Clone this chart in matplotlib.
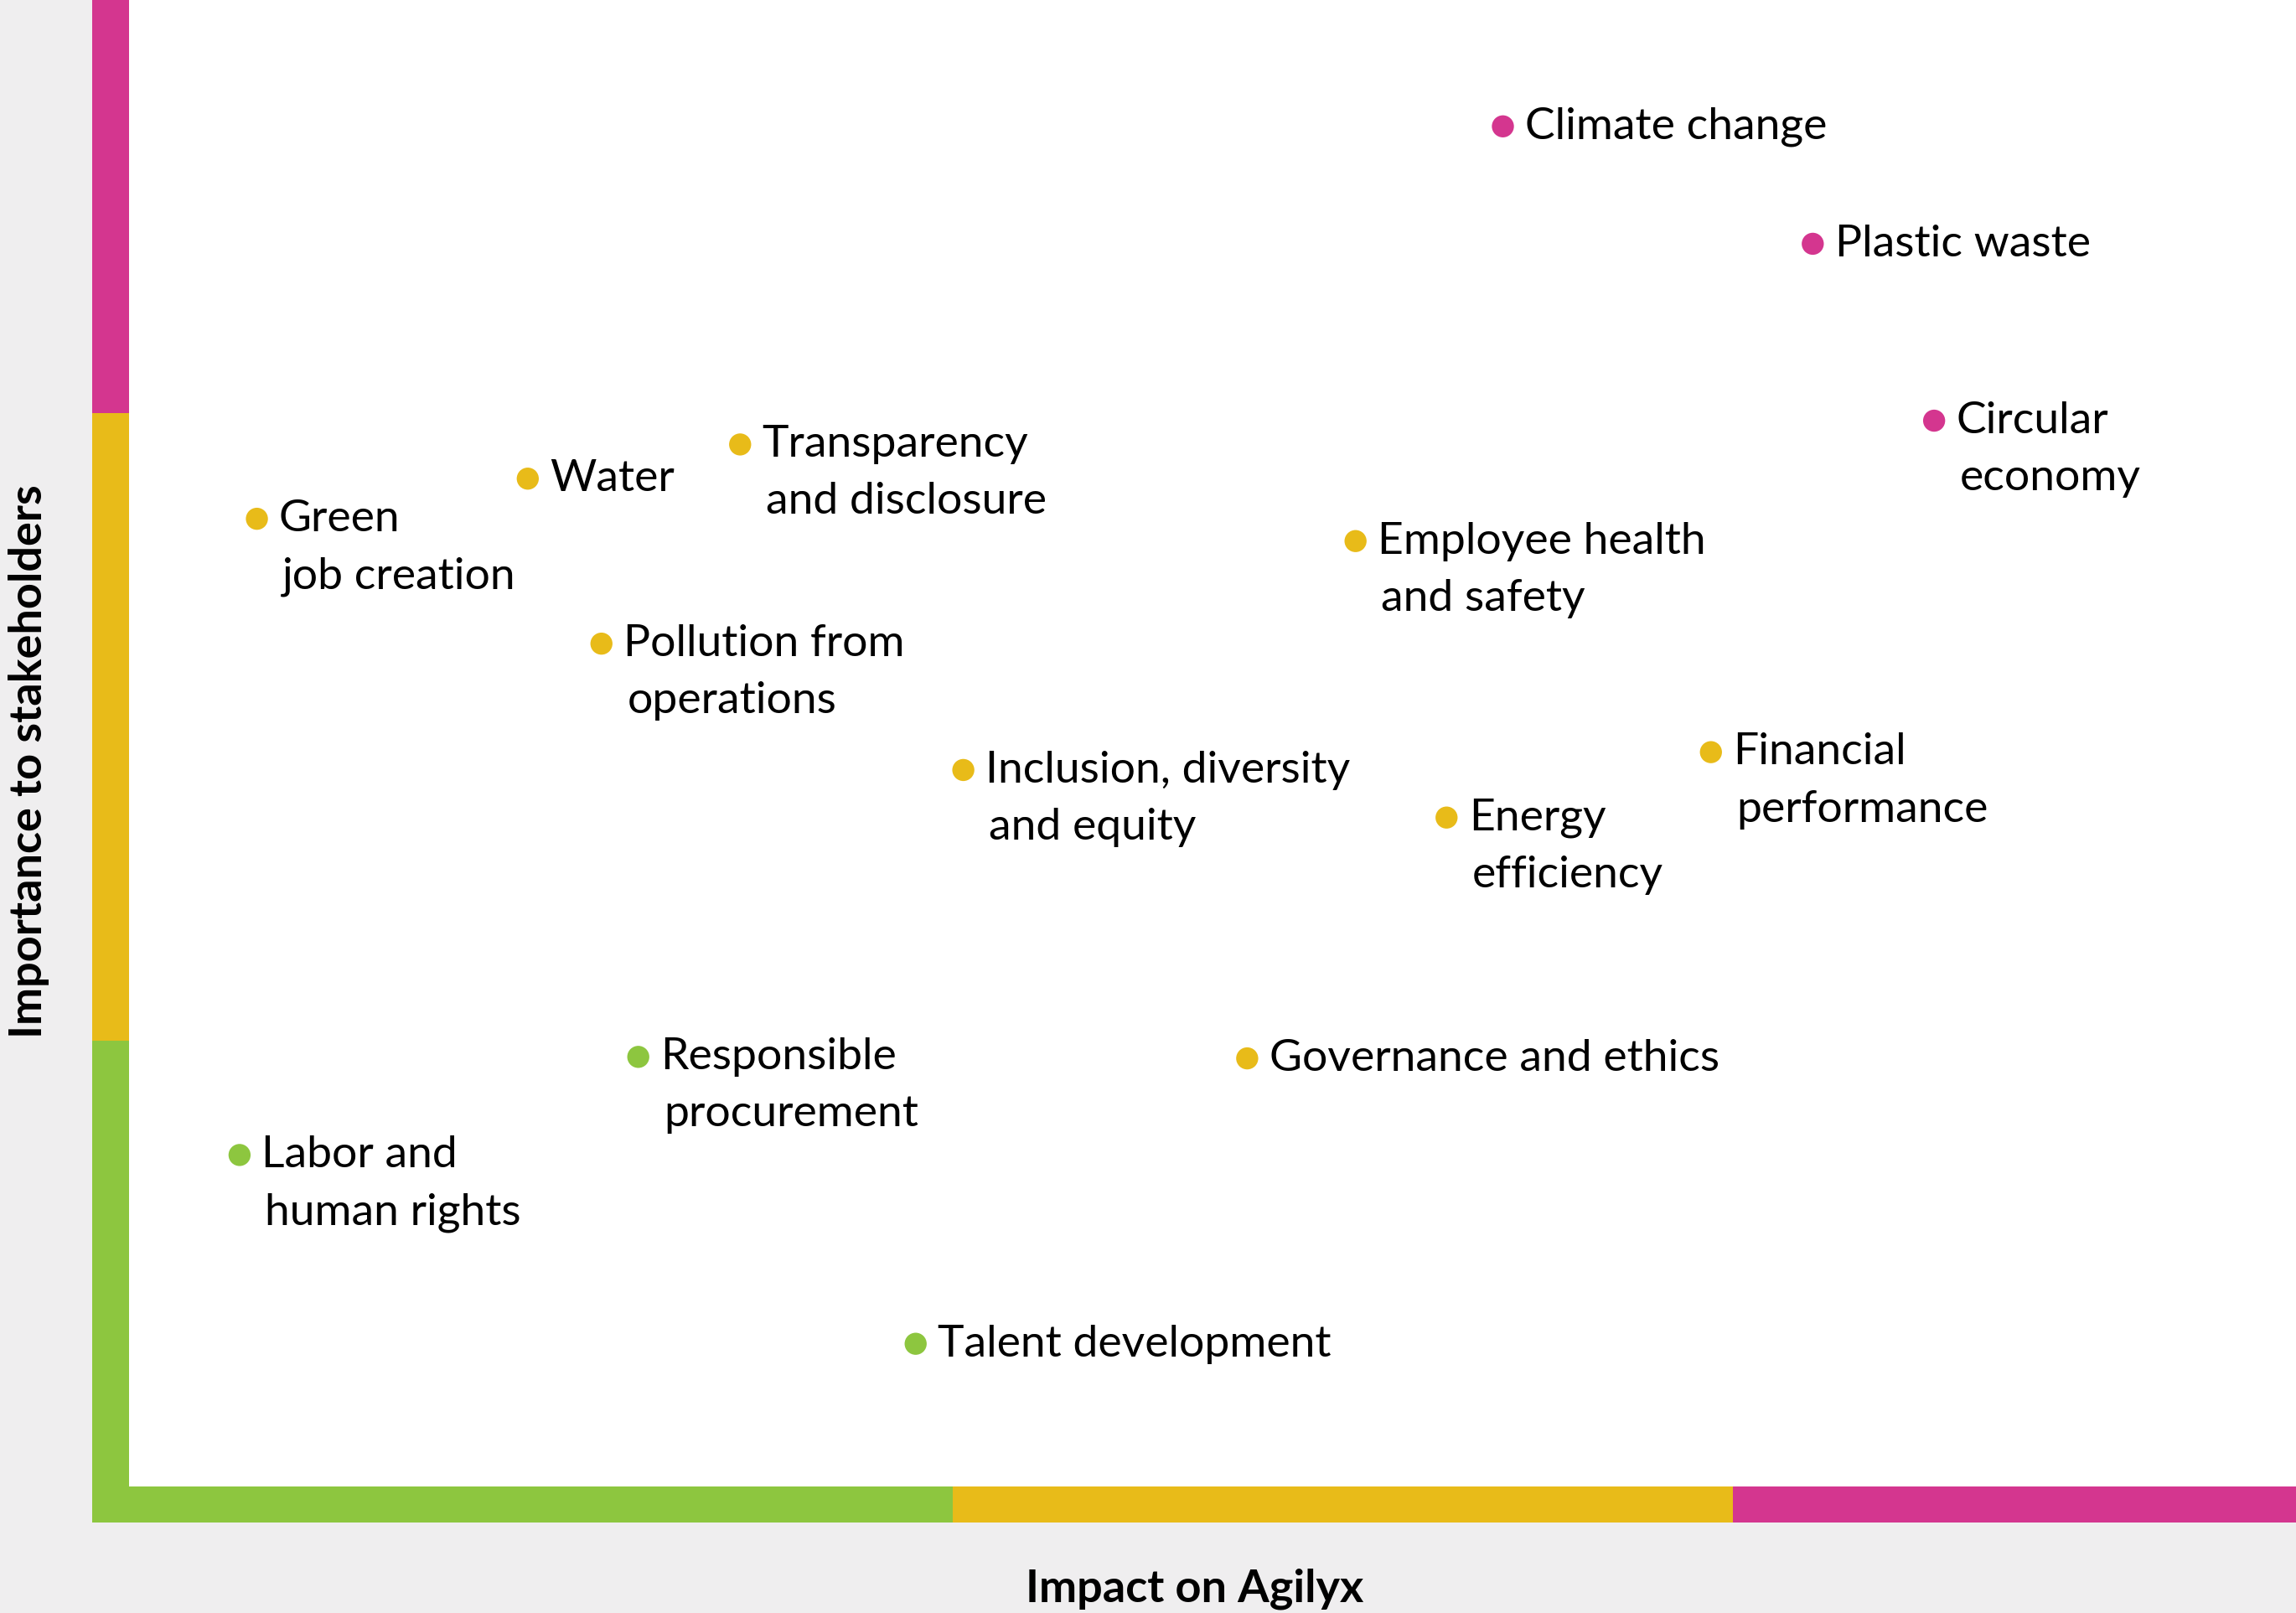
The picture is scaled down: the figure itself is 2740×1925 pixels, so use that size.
import matplotlib.pyplot as plt
from matplotlib.patches import Rectangle
from matplotlib.transforms import blended_transform_factory

plt.rcParams['font.family'] = ['Lato', 'DejaVu Sans']

PINK = '#d4368f'
YELLOW = '#e8bb19'
GREEN = '#8dc63f'

# topics: impact on company (x) vs importance to stakeholders (y), 0-100
labels = ['Climate change', 'Plastic waste', 'Circular\neconomy',
          'Transparency\nand disclosure', 'Water', 'Green\njob creation',
          'Employee health\nand safety', 'Pollution from\noperations',
          'Inclusion, diversity\nand equity', 'Financial\nperformance',
          'Energy\nefficiency', 'Governance and ethics',
          'Responsible\nprocurement', 'Labor and\nhuman rights',
          'Talent development']
impact = [63.4, 77.7, 83.3, 28.2, 18.4, 5.9, 56.6, 21.8, 38.5, 73.0,
          60.8, 51.6, 23.5, 5.1, 36.3]
importance = [91.5, 83.6, 71.7, 70.1, 67.8, 65.1, 63.6, 56.7, 48.2, 49.4,
              45.0, 28.8, 28.9, 22.3, 9.6]
colors = [PINK, PINK, PINK, YELLOW, YELLOW, YELLOW, YELLOW, YELLOW, YELLOW,
          YELLOW, YELLOW, YELLOW, GREEN, GREEN, GREEN]

# zone bands along the axes
x_edges = [0, 38, 74, 100]
y_edges = [0, 30, 72.2, 100]
zone_colors = [GREEN, YELLOW, PINK]

fig = plt.figure(figsize=(27.4, 19.25), dpi=100)
fig.patch.set_facecolor('#efeeef')

ax = fig.add_axes([154/2740, 151/1925, 1 - 154/2740, 1 - 151/1925])
ax.set_facecolor('white')
ax.set_xlim(0, 100)
ax.set_ylim(0, 100)
ax.set_xticks([])
ax.set_yticks([])
for s in ax.spines.values():
    s.set_visible(False)

bw_x = 44/2586   # band width in axes fraction (vertical band)
bw_y = 43/1774   # horizontal band
tx = blended_transform_factory(ax.transData, ax.transAxes)
ty = blended_transform_factory(ax.transAxes, ax.transData)
for i in range(3):
    x0 = x_edges[i]
    w = x_edges[i+1] - x_edges[i]
    ax.add_patch(Rectangle((x0, -bw_y), w, bw_y, transform=tx,
                           color=zone_colors[i], clip_on=False, lw=0))
    ax.add_patch(Rectangle((-bw_x, y_edges[i]), bw_x, y_edges[i+1] - y_edges[i],
                           transform=ty, color=zone_colors[i], clip_on=False, lw=0))
# corner
ax.add_patch(Rectangle((-bw_x, -bw_y), bw_x, bw_y, transform=ax.transAxes,
                       color=GREEN, clip_on=False, lw=0))

ax.scatter(impact, importance, s=360, c=colors, zorder=3, lw=0)

fs = 38.5
for x, y, lab in zip(impact, importance, labels):
    lines = lab.split('\n')
    for j, line in enumerate(lines):
        ax.annotate(line, (x, y), xytext=(19 + (3 if j else 0), 3 - 49*j),
                    textcoords='offset points', ha='left', va='center_baseline',
                    fontsize=fs, color='black')

fig.text(1426/2740, 1 - 1896/1925, 'Impact on Agilyx', ha='center', va='center',
         fontsize=39, fontweight='bold')
fig.text(35/2740, 1 - 909/1925, 'Importance to stakeholders', ha='center',
         va='center', rotation=90, fontsize=39, fontweight='bold')

fig.savefig('out.png', dpi=100, facecolor=fig.get_facecolor())
